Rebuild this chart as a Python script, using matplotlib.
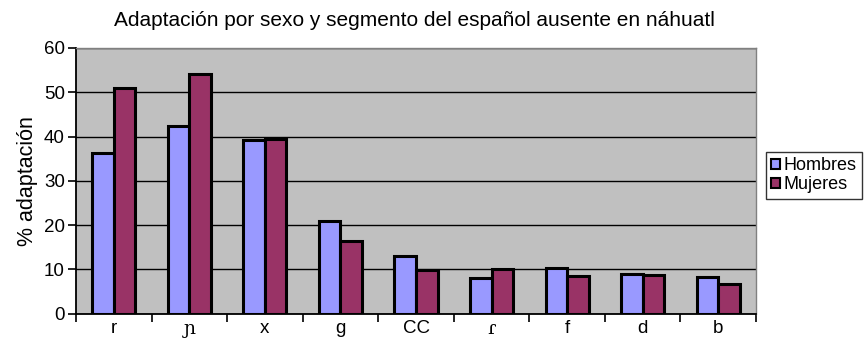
import matplotlib
matplotlib.use("Agg")
import matplotlib.pyplot as plt
import numpy as np

plt.rcParams['font.family'] = ['Liberation Sans', 'DejaVu Sans']

# --- datos ---
segmentos = ['r', 'ɲ', 'x', 'g', 'CC', 'ɾ', 'f', 'd', 'b']
hombres = [36.3, 42.3, 39.2, 20.9, 13.1, 8.0, 10.2, 9.0, 8.3]
mujeres = [51.0, 54.1, 39.4, 16.3, 9.9, 10.0, 8.4, 8.7, 6.6]
series = ['Hombres', 'Mujeres']
colores = ['#9999FF', '#993366']

fig = plt.figure(figsize=(8.64, 3.41), dpi=100)
ax = fig.add_axes([76 / 864, 1 - 313.5 / 341, 680 / 864, 265.5 / 341])
ax.set_facecolor('#C0C0C0')

x = np.arange(len(segmentos))
w = 0.2857
ax.bar(x - w / 2, hombres, w, color=colores[0], edgecolor='black', linewidth=2.2,
       label=series[0], zorder=3)
ax.bar(x + w / 2, mujeres, w, color=colores[1], edgecolor='black', linewidth=2.2,
       label=series[1], zorder=3)

ax.set_xlim(-0.5, len(segmentos) - 0.5)
ax.set_ylim(0, 60)
ax.set_yticks(range(0, 61, 10))
ax.yaxis.grid(True, color='black', linewidth=1.0, zorder=1)
ax.set_axisbelow(True)

# ticks en los limites de categoria, etiquetas centradas
ax.set_xticks(x)
ax.set_xticklabels(segmentos)
ax.set_xticks(np.arange(-0.5, len(segmentos)), minor=True)
ax.tick_params(axis='x', which='major', length=0, pad=4.5, labelsize=13.5)
ax.tick_params(axis='x', which='minor', length=6, width=1.2, direction='out')
ax.tick_params(axis='y', length=6, width=1.2, direction='out', labelsize=13.5, pad=2)
# los simbolos IPA se ven con serifas en el original
for lbl in ax.get_xticklabels():
    if lbl.get_text() in ('ɲ', 'ɾ'):
        lbl.set_family(['DejaVu Serif'])

for s in ['left', 'bottom']:
    ax.spines[s].set_color('black')
    ax.spines[s].set_linewidth(1.3)
for s in ['top', 'right']:
    ax.spines[s].set_color('#808080')
    ax.spines[s].set_linewidth(1.0)

ax.set_ylabel('% adaptación', fontsize=15.5, labelpad=4)
fig.text(0.48, 1 - 21 / 341, 'Adaptación por sexo y segmento del español ausente en náhuatl',
         ha='center', va='center', fontsize=15)

leg = fig.legend(loc='upper left', bbox_to_anchor=(766 / 864, 1 - 152 / 341),
                 fontsize=13, frameon=True, fancybox=False, edgecolor='black',
                 handlelength=0.5, handleheight=0.5, handletextpad=0.15,
                 borderpad=0.3, labelspacing=0.1, borderaxespad=0)
leg.get_frame().set_linewidth(1.0)
for h in leg.legend_handles:
    h.set_linewidth(1.5)

fig.savefig('out.png', dpi=100)
